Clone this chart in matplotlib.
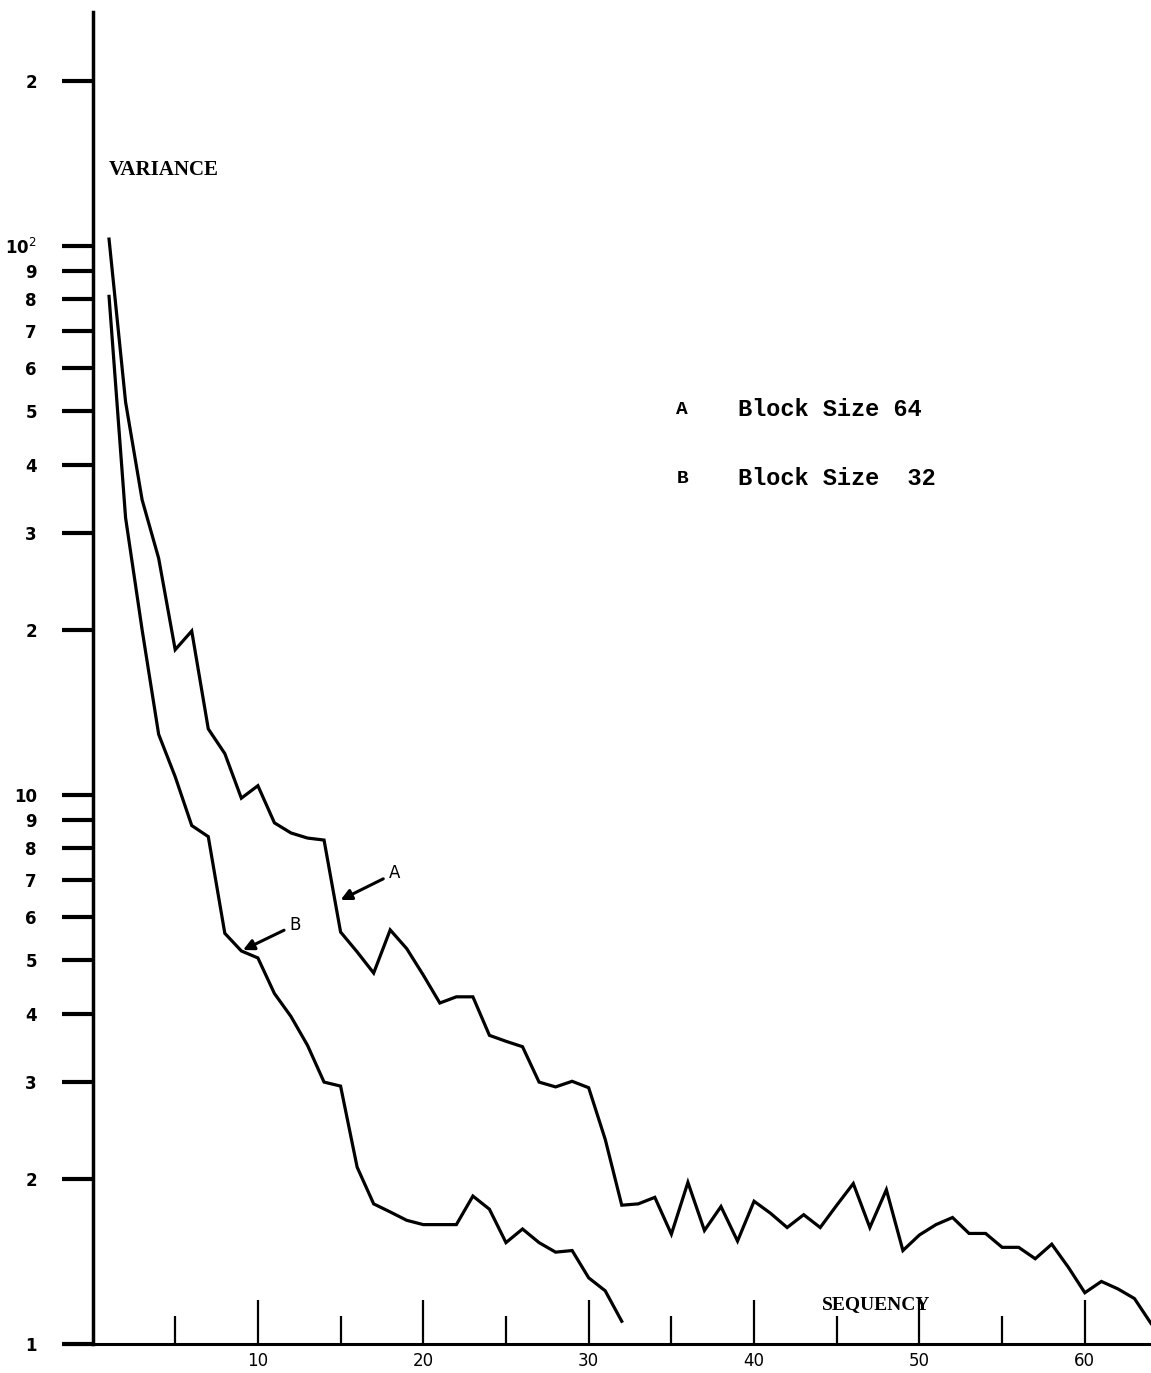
import matplotlib.pyplot as plt
import numpy as np
from matplotlib.ticker import NullLocator, FixedLocator

# variance per sequency index, block size 64 (curve A) and 32 (curve B)
seq_a = np.arange(1, 65)
var_a = [103, 52, 34.5, 27, 18.4, 19.9, 13.2, 11.9, 9.87, 10.4,
         8.9, 8.53, 8.35, 8.28, 5.63, 5.18, 4.74, 5.68, 5.25, 4.7,
         4.18, 4.29, 4.29, 3.65, 3.56, 3.48, 3.0, 2.94, 3.01, 2.93,
         2.36, 1.79, 1.80, 1.85, 1.585, 1.97, 1.61, 1.78, 1.54, 1.82,
         1.73, 1.63, 1.72, 1.63, 1.79, 1.96, 1.63, 1.91, 1.48, 1.58,
         1.65, 1.70, 1.59, 1.59, 1.50, 1.50, 1.43, 1.52, 1.38, 1.24,
         1.30, 1.26, 1.21, 1.09]

seq_b = np.arange(1, 33)
var_b = [81, 32, 20, 12.9, 10.8, 8.8, 8.4, 5.6, 5.2, 5.05,
         4.35, 3.95, 3.5, 3.0, 2.95, 2.1, 1.8, 1.74, 1.68, 1.65,
         1.65, 1.65, 1.86, 1.76, 1.53, 1.62, 1.53, 1.47, 1.48, 1.32,
         1.25, 1.10]

y_ticks = [1, 2, 3, 4, 5, 6, 7, 8, 9, 10,
           20, 30, 40, 50, 60, 70, 80, 90, 100, 200]
y_labels = ['1', '2', '3', '4', '5', '6', '7', '8', '9', '10',
            '2', '3', '4', '5', '6', '7', '8', '9', r'10$^{2}$', '2']
x_major = [10, 20, 30, 40, 50, 60]
x_minor = [5, 15, 25, 35, 45, 55]

fig = plt.figure(figsize=(11.51, 13.73), dpi=100)
ax = fig.add_axes([92.5 / 1151, 29 / 1373, 1 - 92.5 / 1151, 1332 / 1373])

ax.plot(seq_a, var_a, color='black', linewidth=2.3, solid_joinstyle='miter')
ax.plot(seq_b, var_b, color='black', linewidth=2.3, solid_joinstyle='miter')

ax.set_yscale('log')
ax.set_xlim(0, 64)
ax.set_ylim(1, 267)

ax.yaxis.set_major_locator(FixedLocator(y_ticks))
ax.yaxis.set_minor_locator(NullLocator())
ax.set_yticklabels(y_labels, fontsize=12, fontweight='bold', family='DejaVu Sans')
ax.tick_params(axis='y', direction='out', length=22, width=3, pad=18)

ax.set_xticks(x_major)
ax.set_xticks(x_minor, minor=True)
ax.set_xticklabels([str(v) for v in x_major], fontsize=12, family='DejaVu Sans')
ax.tick_params(axis='x', which='major', direction='in', length=32, width=1.6, pad=6)
ax.tick_params(axis='x', which='minor', direction='in', length=20, width=1.6)

for side in ['top', 'right']:
    ax.spines[side].set_visible(False)
ax.spines['left'].set_linewidth(2.5)
ax.spines['bottom'].set_linewidth(2.2)
# baseline runs a little past the vertical axis
ax.plot([-0.027, 0], [0, 0], transform=ax.transAxes, color='black',
        linewidth=2.2, clip_on=False)

ax.text(1.0, 137.5, 'VARIANCE', fontsize=15, family='Liberation Serif',
        fontweight='bold', va='center')
ax.text(44.1, 1.178, 'SEQUENCY', fontsize=14, family='Liberation Serif',
        fontweight='bold', va='center')

ax.text(35.3, 50.3, 'A', fontsize=14, family='Liberation Mono', fontweight='bold',
        va='center')
ax.text(39, 50.3, 'Block Size 64', fontsize=17, family='Liberation Mono',
        fontweight='bold', va='center')
ax.text(35.3, 37.8, 'B', fontsize=14, family='Liberation Mono', fontweight='bold',
        va='center')
ax.text(39, 37.8, 'Block Size  32', fontsize=17, family='Liberation Mono',
        fontweight='bold', va='center')

ax.annotate('A', xy=(15.0, 6.44), xytext=(17.9, 7.2), fontsize=12,
            va='center', ha='left',
            arrowprops=dict(arrowstyle='-|>', color='black', lw=2.2,
                            mutation_scale=16, shrinkA=2, shrinkB=0))
ax.annotate('B', xy=(9.1, 5.22), xytext=(11.9, 5.8), fontsize=12,
            va='center', ha='left',
            arrowprops=dict(arrowstyle='-|>', color='black', lw=2.2,
                            mutation_scale=16, shrinkA=2, shrinkB=0))

plt.savefig('out.png', dpi=100)
